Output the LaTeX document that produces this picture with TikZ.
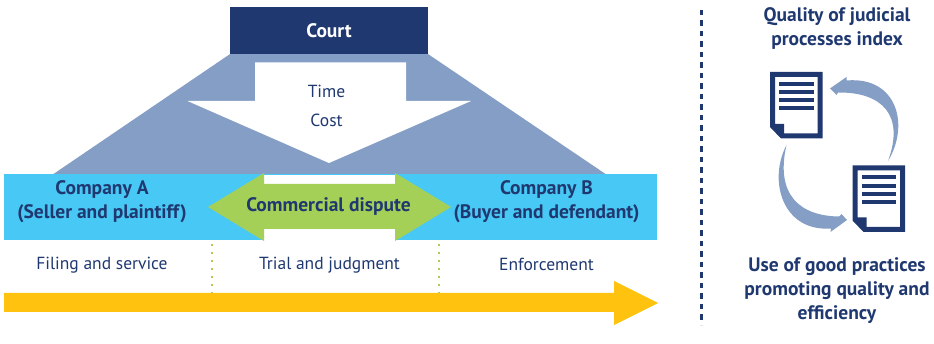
\documentclass[tikz,border=0pt]{standalone}
\usepackage{xcolor}
\usepackage{fontspec}
\setmainfont{PT Sans}
\usetikzlibrary{positioning}
\definecolor{CourtNavy}{RGB}{31,56,112}
\definecolor{FunnelBlue}{RGB}{133,158,197}
\definecolor{BandBlue}{RGB}{72,200,245}
\definecolor{DisputeGreen}{RGB}{165,208,88}
\definecolor{TimeYellow}{RGB}{255,194,14}
\tikzset{
    boldlabel/.style={text=CourtNavy,align=center,inner sep=0pt,font=\fontsize{19.5}{24}\selectfont\bfseries},
    steplabel/.style={text=CourtNavy,align=center,inner sep=0pt,font=\fontsize{17.5}{29}\selectfont},
    stagedivider/.style={DisputeGreen,line width=2.5pt,dash pattern=on 2.5pt off 5.5pt},
}

\begin{document}
\begin{tikzpicture}[x=1pt,y=-1pt]
    \useasboundingbox (0,0) rectangle (934,344);
    \node[rectangle,fill=CourtNavy,text=white,minimum width=198pt,minimum height=47pt,inner sep=0pt,font=\fontsize{19.5}{24}\selectfont\bfseries] (court) at (329,30.5) {Court};

    \fill[FunnelBlue] (court.south west) -- (court.south east) -- (607,175) -- (52,175) -- cycle;
    \fill[white] (255,62.5) -- (406,62.5) -- (406,101) -- (471,101) -- (329,163) -- (187.5,101) -- (255,101) -- cycle;
    \node[steplabel] (burden) at (326.5,105.5) {Time\\Cost};

    \fill[BandBlue] (4,174) rectangle (657,240);
    \fill[white] (264,175) rectangle (395,240);
    \fill[DisputeGreen] (208,207) -- (264,173) -- (264,184) -- (395,184) -- (395,173) -- (451,207) -- (395,241) -- (395,229) -- (264,229) -- (264,241) -- cycle;
    \node[boldlabel] (dispute) at (328.5,206) {Commercial dispute};
    \node[boldlabel] (companya) at (102,202) {Company A\\(Seller and plaintiff)};
    \node[boldlabel] (companyb) at (546.5,202) {Company B\\(Buyer and defendant)};

    \node[steplabel] (filing) at (102,265) {Filing and service};
    \node[steplabel] (trial) at (329.5,265) {Trial and judgment};
    \node[steplabel] (enforcement) at (546.5,264) {Enforcement};

    \fill[TimeYellow] (4,293) -- (614,293) -- (614,281) -- (658,303) -- (614,325) -- (614,312) -- (4,312) -- cycle;

    \coordinate (firsttop) at (212,244);
    \coordinate (firstbottom) at (212,293);
    \coordinate (secondtop) at (439,244);
    \coordinate (secondbottom) at (439,293);
    \draw[stagedivider] (firsttop) -- (firstbottom);
    \draw[stagedivider] (secondtop) -- (secondbottom);

    \coordinate (ruletop) at (701,10);
    \coordinate (rulebottom) at (701,325);
    \draw[CourtNavy,line width=3pt,dash pattern=on 5.5pt off 5pt] (ruletop) -- (rulebottom);

    \node[boldlabel] (index) at (837,28) {Quality of judicial\\processes index};
    \node[boldlabel] (practices) at (837,291) {Use of good practices\\promoting quality and\\efficiency};

    \foreach \dx/\dy in {770/72,852.5/165.5} {
        \begin{scope}[shift={(\dx,\dy)}]
            \fill[CourtNavy,even odd rule] (0,0) -- (52.5,0) -- (52.5,66.5) -- (11,66.5) -- (0,55) -- cycle
                (5,5) -- (5,52) -- (14,52) -- (14,61.5) -- (47.5,61.5) -- (47.5,5) -- cycle;
            \foreach \ly in {12,20.5,28.5,36.5}
                \fill[CourtNavy] (9,\ly-2) rectangle (43.5,\ly+2);
        \end{scope}
    }

    \fill[FunnelBlue] (888,161) .. controls (910,125) and (897,76) .. (846.5,80.5) -- (846.5,77) -- (830,88.5) -- (836.5,95) -- (838,92.5) .. controls (882,92) and (905,115) .. cycle;
    \fill[FunnelBlue] (786.5,145) .. controls (768,180) and (782,232) .. (831,228.5) -- (830.5,232) -- (847,220) -- (841.5,214) -- (839,216.5) .. controls (800,216) and (775,195) .. cycle;
\end{tikzpicture}
\end{document}
